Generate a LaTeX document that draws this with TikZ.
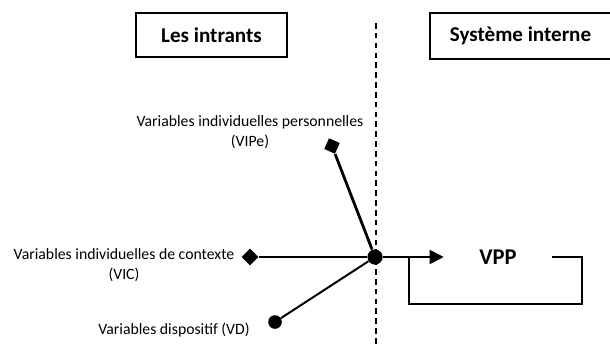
\documentclass[tikz,border=0pt]{standalone}
\usepackage{fontspec}
\setmainfont{Carlito}
\usetikzlibrary{shapes.geometric,arrows.meta}

\begin{document}
\begin{tikzpicture}[x=0.025cm,y=-0.025cm,
  titre/.style={draw,line width=1.2pt,font=\fontsize{15}{18}\selectfont\bfseries,minimum height=1.1cm},
  etiq/.style={align=center,font=\fontsize{11.2}{14.5}\selectfont},
  losange/.style={diamond,fill,inner sep=0pt,minimum size=0.42cm},
  rond/.style={circle,fill,inner sep=0pt,minimum size=0.34cm}]
\useasboundingbox (0,0) rectangle (610,347);
\node[titre,minimum width=3.775cm] (intrants) at (211.5,35) {Les intrants};
\node[titre,minimum width=4.525cm,minimum height=1.15cm] (systeme) at (520.5,36) {Système interne};
\coordinate (haut) at (376,23);
\coordinate (bas) at (376,347);
\draw[line width=1.2pt,dash pattern=on 4pt off 3pt] (haut) -- (bas);
\node[rond,minimum size=0.38cm] (centre) at (375,257) {};
\node[losange,rotate=21] (vipe) at (332,146) {};
\node[losange] (vic) at (250,257) {};
\node[rond,minimum size=0.34cm] (vd) at (275,322) {};
\draw[line width=2pt] (vipe) -- (centre);
\draw[line width=1.6pt] (vic) -- (centre);
\draw[line width=1.4pt] (vd) -- (centre);
\node[font=\fontsize{16}{19}\selectfont\bfseries,minimum width=2.7cm] (vpp) at (498,257) {VPP};
\draw[line width=1.4pt,-{Triangle[length=10pt,width=10pt]}] (centre) -- (vpp);
\coordinate (coin) at (582,304);
\coordinate (retour) at (409,257);
\draw[line width=1pt] (vpp.east) -| (coin) -| (retour);
\node[etiq] (lvipe) at (250,132) {Variables individuelles personnelles\\(VIPe)};
\node[etiq] (lvic) at (124,265) {Variables individuelles de contexte\\(VIC)};
\node[etiq] (lvd) at (174,330) {Variables dispositif (VD)};
\end{tikzpicture}
\end{document}
